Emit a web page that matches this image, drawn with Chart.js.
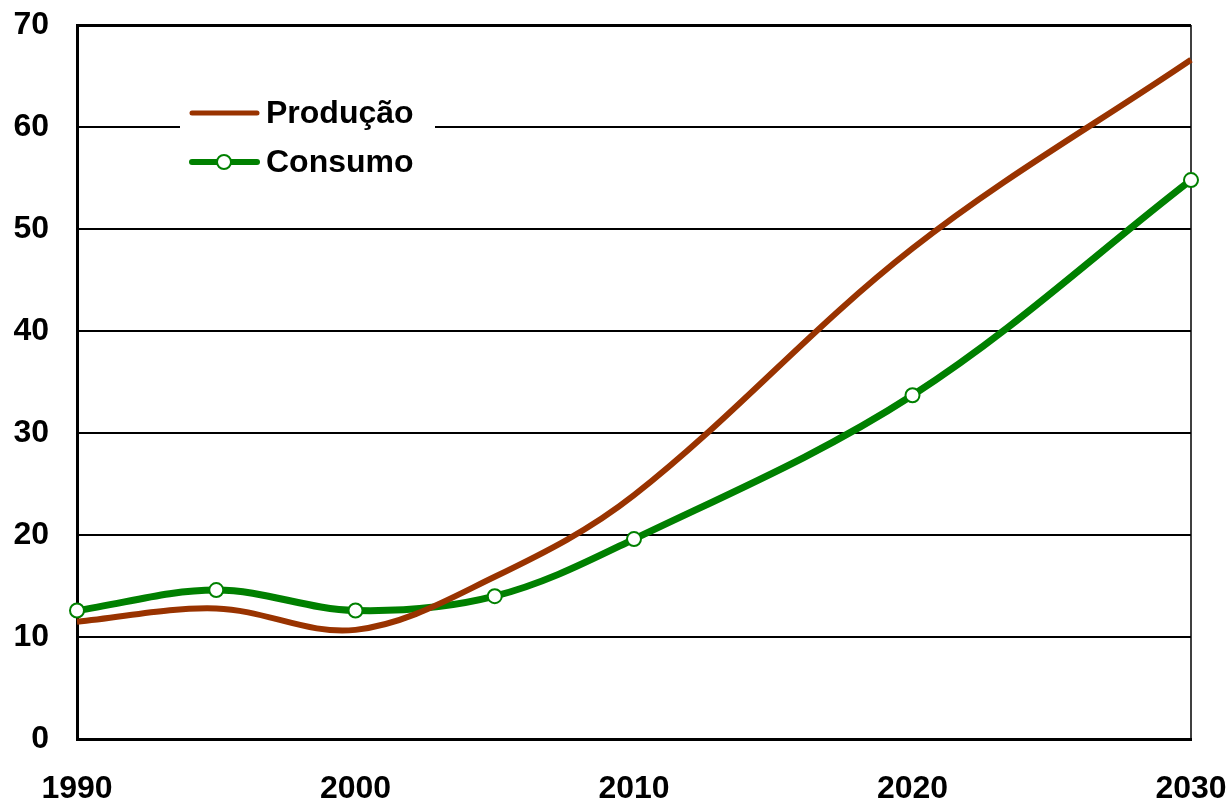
<!DOCTYPE html>
<html>
<head>
<meta charset="utf-8">
<style>
  html, body { margin: 0; padding: 0; background: #ffffff; }
  #wrap { width: 1232px; height: 807px; }
</style>
<script src="https://cdn.jsdelivr.net/npm/chart.js@4/dist/chart.umd.min.js"></script>
</head>
<body>
<div id="wrap"><canvas id="c" width="1232" height="807"></canvas></div>
<script>
// Years with data
const years = [1990, 1995, 2000, 2005, 2010, 2020, 2030];
// Produção
const producao = [11.5, 12.8, 10.7, 15.9, 23.9, 48.1, 66.6];
// Consumo
const consumo = [12.6, 14.6, 12.6, 14.0, 19.6, 33.7, 54.8];
// Axis ticks
const xTicks = [1990, 2000, 2010, 2020, 2030];
const yTicks = [0, 10, 20, 30, 40, 50, 60, 70];

const BROWN = '#993300';
const GREEN = '#008000';
const FONT = "'Liberation Sans', Arial, sans-serif";

const toPoints = (vals) => years.map((y, i) => ({ x: y, y: vals[i] }));

// Thin right-hand frame line
const frame = {
  id: 'frame',
  beforeDatasetsDraw(chart) {
    const { ctx, chartArea: a } = chart;
    ctx.save();
    ctx.strokeStyle = '#000';
    ctx.lineWidth = 1.5;
    ctx.beginPath();
    ctx.moveTo(a.right, a.top);
    ctx.lineTo(a.right, a.bottom);
    ctx.stroke();
    ctx.restore();
  }
};

// Legend drawn inside the plot area, over a white panel
const insetLegend = {
  id: 'insetLegend',
  afterDraw(chart) {
    const { ctx } = chart;
    ctx.save();
    ctx.fillStyle = '#ffffff';
    ctx.fillRect(180, 92, 255, 92);
    const rows = [113, 162];
    chart.data.datasets.forEach((ds, i) => {
      const y = rows[i];
      ctx.strokeStyle = ds.borderColor;
      ctx.lineWidth = ds.borderWidth - 1;
      ctx.lineCap = 'round';
      ctx.beginPath();
      ctx.moveTo(192, y);
      ctx.lineTo(257, y);
      ctx.stroke();
      if (ds.pointRadius > 0) {
        ctx.beginPath();
        ctx.arc(224, y, ds.pointRadius, 0, Math.PI * 2);
        ctx.fillStyle = ds.pointBackgroundColor;
        ctx.fill();
        ctx.lineWidth = ds.pointBorderWidth;
        ctx.strokeStyle = ds.pointBorderColor;
        ctx.stroke();
      }
      ctx.fillStyle = '#000';
      ctx.font = 'bold 32px ' + FONT;
      ctx.textBaseline = 'middle';
      ctx.textAlign = 'left';
      ctx.fillText(ds.label, 266, y + 1);
    });
    ctx.restore();
  }
};

new Chart(document.getElementById('c'), {
  type: 'line',
  data: {
    datasets: [
      {
        label: 'Produção',
        data: toPoints(producao),
        borderColor: BROWN,
        borderWidth: 6,
        pointRadius: 0,
        pointHoverRadius: 0,
        tension: 0.35,
        clip: false
      },
      {
        label: 'Consumo',
        data: toPoints(consumo),
        borderColor: GREEN,
        borderWidth: 7,
        pointRadius: 7,
        pointHoverRadius: 7,
        pointBackgroundColor: '#ffffff',
        pointBorderColor: GREEN,
        pointBorderWidth: 2,
        tension: 0.35,
        clip: false
      }
    ]
  },
  options: {
    responsive: false,
    animation: false,
    devicePixelRatio: 1,
    layout: { padding: { left: 0, right: 41, top: 25, bottom: 0 } },
    plugins: {
      legend: { display: false },
      tooltip: { enabled: false }
    },
    scales: {
      x: {
        type: 'linear',
        min: 1990,
        max: 2030,
        afterBuildTicks(scale) { scale.ticks = xTicks.map(v => ({ value: v })); },
        afterFit(scale) {
          scale.height = 68;
          scale.paddingLeft = 0;
          scale.paddingRight = 0;
        },
        grid: { display: false, drawTicks: false },
        border: { display: true, color: '#000', width: 3 },
        ticks: {
          padding: 31,
          color: '#000',
          font: { family: FONT, size: 32, weight: 'bold' },
          callback: (v) => String(v),
          maxRotation: 0
        }
      },
      y: {
        min: 0,
        max: 70,
        afterBuildTicks(scale) { scale.ticks = yTicks.map(v => ({ value: v })); },
        afterFit(scale) {
          scale.width = 77;
          scale.paddingTop = 0;
          scale.paddingBottom = 0;
        },
        grid: {
          drawTicks: false,
          color: (c) => (c.tick && c.tick.value === 0 ? 'rgba(0,0,0,0)' : '#000'),
          lineWidth: (c) => (c.tick && c.tick.value === 70 ? 3 : 2)
        },
        border: { display: true, color: '#000', width: 3 },
        ticks: {
          padding: 28,
          color: '#000',
          font: { family: FONT, size: 32, weight: 'bold' },
          callback: (v) => String(v)
        }
      }
    }
  },
  plugins: [frame, insetLegend]
});
</script>
</body>
</html>
